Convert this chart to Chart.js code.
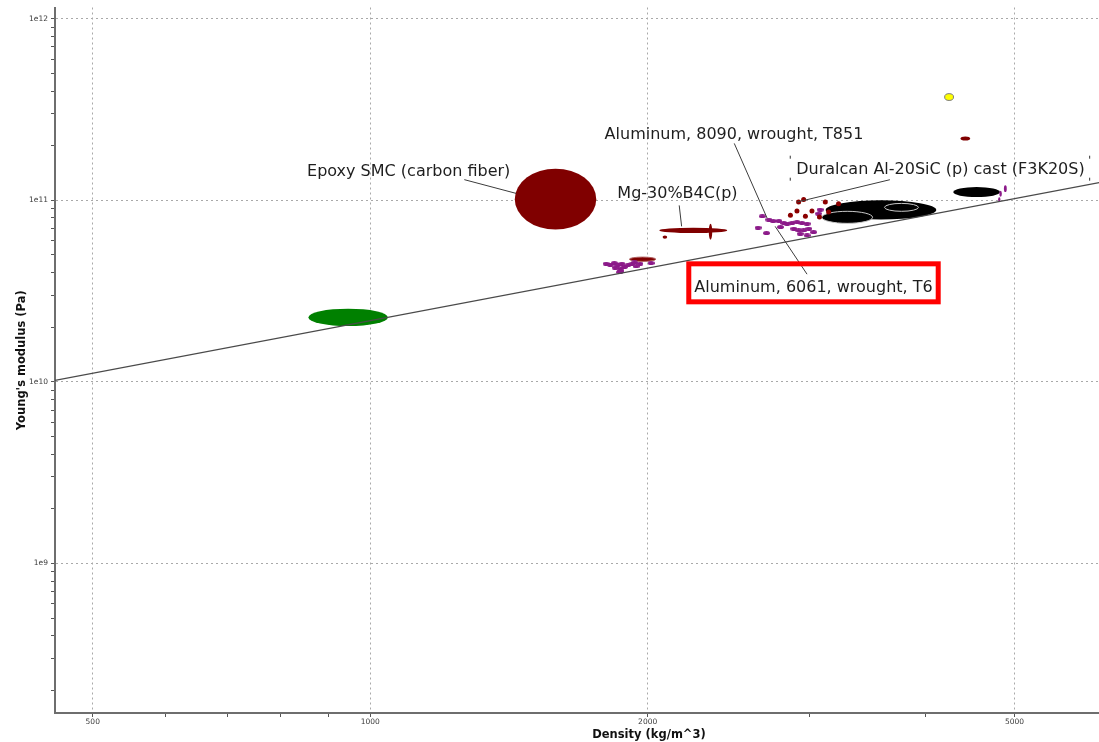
<!DOCTYPE html>
<html>
<head>
<meta charset="utf-8">
<script src="https://cdn.jsdelivr.net/npm/chart.js@4/dist/chart.umd.min.js"></script>
<style>
    html, body { margin: 0; padding: 0; background: #ffffff; overflow: hidden; }
    #wrap { position: relative; width: 1248px; height: 742px; }
</style>
</head>
<body>
<div id="wrap"><canvas id="chart"></canvas></div>
<script>
// axis ticks
const xMajorTicks = [500, 1000, 2000, 5000];
const xMinorTicks = [600, 700, 800, 900, 3000, 4000];
const yMajorTicks = [1e9, 1e10, 1e11, 1e12];
const yMinorTicks = [
    2e8, 3e8, 4e8, 5e8, 6e8, 7e8, 8e8, 9e8,
    2e9, 3e9, 4e9, 5e9, 6e9, 7e9, 8e9, 9e9,
    2e10, 3e10, 4e10, 5e10, 6e10, 7e10, 8e10, 9e10,
    2e11, 3e11, 4e11, 5e11, 6e11, 7e11, 8e11, 9e11,
];

// E / rho guide line (density kg/m^3, modulus Pa)
const guideDensity = [455, 8850];
const guideModulus = [1.02e10, 1.77e11];

// materials drawn as property-range bubbles
const rangeDensity = [
    [857, 1045], [1435, 1759], [2059, 2440], [2330, 2350], [2076, 2100],
    [1911, 2041], [3120, 4113], [3090, 3508], [3614, 3934], [4291, 4823],
    [4870, 4905], [4815, 4845], [4800, 4828], [4200, 4294], [4370, 4476],
];
const rangeModulus = [
    [2.03e10, 2.53e10], [6.9e10, 1.494e11], [6.6e10, 7.07e10], [6.07e10, 7.44e10], [6.14e10, 6.41e10],
    [4.61e10, 4.87e10], [7.85e10, 1.0e11], [7.47e10, 8.7e10], [8.7e10, 9.62e10], [1.042e11, 1.183e11],
    [1.11e11, 1.21e11], [1.045e11, 1.13e11], [9.8e10, 1.04e11], [3.55e11, 3.87e11], [2.138e11, 2.25e11],
];
const rangeKind = [
    'green', 'maroon', 'maroon', 'maroon', 'maroon',
    'maroonEdge', 'black', 'blackEdge', 'blackEdge', 'black',
    'purple', 'purple', 'purple', 'yellow', 'maroon',
];

// small Mg / Al alloy records
const purpleDensity = [
    1803, 1822, 1840, 1856, 1875, 1887, 1868, 1903, 1922, 1943, 1962, 1871, 1935, 2017, 1844, 1866,
    2663, 2707, 2736, 2776, 2810, 2635, 2691, 2787, 2833, 2868, 2904, 2940, 2978, 2881, 2916,
    2953, 2991, 3027, 2928, 2978, 3077, 3065,
];
const purpleModulus = [
    4.48e10, 4.42e10, 4.51e10, 4.39e10, 4.48e10, 4.30e10, 4.21e10, 4.39e10, 4.45e10, 4.33e10, 4.48e10, 4.08e10, 4.55e10, 4.51e10, 4.26e10, 4.02e10,
    8.17e10, 7.83e10, 7.69e10, 7.69e10, 7.50e10, 7.07e10, 6.60e10, 7.13e10, 7.44e10, 7.50e10, 7.59e10, 7.50e10, 7.44e10, 6.98e10, 6.83e10,
    6.83e10, 6.98e10, 6.68e10, 6.55e10, 6.41e10, 8.89e10, 8.45e10,
];

// small Al matrix composite records
const redDensity = [2916, 2953, 3117, 3222, 2857, 2904, 2966, 3015, 3072, 3143];
const redModulus = [9.78e10, 1.01e11, 9.78e10, 9.58e10, 8.27e10, 8.73e10, 8.17e10, 8.73e10, 8.09e10, 8.62e10];

// labels with leader lines
const notes = [
    { text: 'Epoxy SMC (carbon fiber)', at: [854, 1.444e11], leader: [[1265, 1.3e11], [1440, 1.092e11]] },
    { text: 'Mg-30%B4C(p)', at: [1854, 1.084e11], leader: [[2164, 9.38e10], [2177, 7.19e10]] },
    { text: 'Aluminum, 8090, wrought, T851', at: [1796, 2.308e11], leader: [[2483, 2.059e11], [2696, 7.96e10]] },
    { text: 'Duralcan Al-20SiC (p) cast (F3K20S)', at: [2899, 1.475e11], leader: [[3663, 1.299e11], [2904, 9.78e10]], brackets: true },
    { text: 'Aluminum, 6061, wrought, T6', at: [2247, 3.276e10], leader: [[2978, 3.92e10], [2750, 7.19e10]], box: true },
];

const FONT = '"DejaVu Sans", Verdana, sans-serif';
const AXIS = '#6e6e6e';
const GRID = '#a9a9a9';
const TICK = '#3a3a3a';

const FILLS = {
    green: '#008000',
    maroon: '#800000',
    maroonEdge: '#800000',
    black: '#000000',
    blackEdge: '#000000',
    purple: '#8b1a89',
    yellow: '#ffff00',
};
const EDGES = {
    maroonEdge: '#b06060',
    blackEdge: '#c8c8c8',
    yellow: '#7a7a7a',
};

function ellipseDot(w, h, color) {
    const c = document.createElement('canvas');
    c.width = w;
    c.height = h;
    const g = c.getContext('2d');
    g.fillStyle = color;
    g.beginPath();
    g.ellipse(w / 2, h / 2, w / 2, h / 2, 0, 0, Math.PI * 2);
    g.fill();
    return c;
}

const rangePlugin = {
    id: 'ranges',
    beforeDatasetsDraw(chart) {
        const { ctx, scales: { x, y } } = chart;
        ctx.save();
        rangeDensity.forEach((d, i) => {
            const x0 = x.getPixelForValue(d[0]);
            const x1 = x.getPixelForValue(d[1]);
            const y0 = y.getPixelForValue(rangeModulus[i][0]);
            const y1 = y.getPixelForValue(rangeModulus[i][1]);
            ctx.beginPath();
            ctx.ellipse((x0 + x1) / 2, (y0 + y1) / 2, Math.abs(x1 - x0) / 2, Math.abs(y1 - y0) / 2, 0, 0, Math.PI * 2);
            ctx.fillStyle = FILLS[rangeKind[i]];
            ctx.fill();
            if (EDGES[rangeKind[i]]) {
                ctx.strokeStyle = EDGES[rangeKind[i]];
                ctx.lineWidth = 1;
                ctx.stroke();
            }
        });
        ctx.restore();
    },
};

const notePlugin = {
    id: 'notes',
    afterDatasetsDraw(chart) {
        const { ctx, scales: { x, y } } = chart;
        ctx.save();
        ctx.font = `16px ${FONT}`;
        ctx.textBaseline = 'middle';
        ctx.textAlign = 'left';
        notes.forEach((n) => {
            const tx = x.getPixelForValue(n.at[0]);
            const ty = y.getPixelForValue(n.at[1]);
            const w = ctx.measureText(n.text).width;

            ctx.strokeStyle = '#3c3c3c';
            ctx.lineWidth = 1;
            ctx.beginPath();
            ctx.moveTo(x.getPixelForValue(n.leader[0][0]), y.getPixelForValue(n.leader[0][1]));
            ctx.lineTo(x.getPixelForValue(n.leader[1][0]), y.getPixelForValue(n.leader[1][1]));
            ctx.stroke();

            if (n.box) {
                ctx.strokeStyle = '#ff0000';
                ctx.lineWidth = 5;
                ctx.strokeRect(tx - 5.5, ty - 24.5, w + 11, 38);
            }

            if (n.brackets) {
                const l = tx - 6;
                const r = tx + w + 5;
                const t = ty - 14;
                const b = ty + 11;
                ctx.strokeStyle = '#333';
                ctx.lineWidth = 1;
                ctx.beginPath();
                [l, r].forEach((cx) => {
                    ctx.moveTo(cx, t);
                    ctx.lineTo(cx, t + 3);
                    ctx.moveTo(cx, b - 3);
                    ctx.lineTo(cx, b);
                });
                ctx.stroke();
            }

            ctx.fillStyle = '#1e1e1e';
            ctx.fillText(n.text, tx, ty);
        });
        ctx.restore();
    },
};

const purpleDot = ellipseDot(7, 4, '#8b1a89');

new Chart(document.getElementById('chart'), {
    type: 'scatter',
    data: {
        datasets: [
            {
                label: 'E / rho guide',
                data: guideDensity.map((d, i) => ({ x: d, y: guideModulus[i] })),
                showLine: true,
                borderColor: '#4a4a4a',
                borderWidth: 1.2,
                pointRadius: 0,
            },
            {
                label: 'Metal matrix composites',
                data: redDensity.map((d, i) => ({ x: d, y: redModulus[i] })),
                backgroundColor: '#8b0000',
                borderWidth: 0,
                pointRadius: 2.5,
            },
            {
                label: 'Mg and Al alloys',
                data: purpleDensity.map((d, i) => ({ x: d, y: purpleModulus[i] })),
                pointStyle: purpleDot,
                pointRadius: 3,
            },
        ],
    },
    options: {
        responsive: true,
        maintainAspectRatio: false,
        animation: false,
        events: [],
        layout: { padding: { top: 7, right: 0, bottom: 0, left: 0 } },
        plugins: {
            legend: { display: false },
            tooltip: { enabled: false },
        },
        scales: {
            x: {
                type: 'logarithmic',
                position: 'bottom',
                min: 455,
                max: 8850,
                afterBuildTicks: (scale) => {
                    scale.ticks = [...xMajorTicks, ...xMinorTicks].sort((a, b) => a - b).map((v) => ({ value: v }));
                },
                afterFit: (scale) => { scale.height = 29; },
                ticks: {
                    autoSkip: false,
                    maxRotation: 0,
                    padding: 1,
                    color: TICK,
                    font: { family: FONT, size: 7.5 },
                    callback: (v) => (xMajorTicks.includes(v) ? String(v) : ''),
                },
                grid: {
                    color: (c) => (c.tick && xMajorTicks.includes(c.tick.value) ? GRID : 'transparent'),
                    tickColor: '#555',
                    tickLength: 4,
                    lineWidth: 1,
                },
                border: { display: true, color: AXIS, width: 2, dash: [2, 3] },
                title: {
                    display: true,
                    text: 'Density (kg/m^3)',
                    color: '#111',
                    font: { family: FONT, size: 11.5, weight: 'bold' },
                    padding: { top: 0, bottom: 0 },
                },
            },
            y: {
                type: 'logarithmic',
                position: 'left',
                min: 1.5e8,
                max: 1.154e12,
                afterBuildTicks: (scale) => {
                    scale.ticks = [...yMajorTicks, ...yMinorTicks].sort((a, b) => a - b).map((v) => ({ value: v }));
                },
                afterFit: (scale) => { scale.width = 55; },
                ticks: {
                    autoSkip: false,
                    padding: 3,
                    color: TICK,
                    font: { family: FONT, size: 7.5 },
                    callback: (v) => (yMajorTicks.includes(v) ? `1e${Math.round(Math.log10(v))}` : ''),
                },
                grid: {
                    color: (c) => (c.tick && yMajorTicks.includes(c.tick.value) ? GRID : 'transparent'),
                    tickColor: '#555',
                    tickLength: 4,
                    lineWidth: 1,
                },
                border: { display: true, color: AXIS, width: 2, dash: [2, 3] },
                title: {
                    display: true,
                    text: "Young's modulus (Pa)",
                    color: '#111',
                    font: { family: FONT, size: 11.5, weight: 'bold' },
                    padding: { top: 15, bottom: 0 },
                },
            },
        },
    },
    plugins: [rangePlugin, notePlugin],
});
</script>
</body>
</html>
